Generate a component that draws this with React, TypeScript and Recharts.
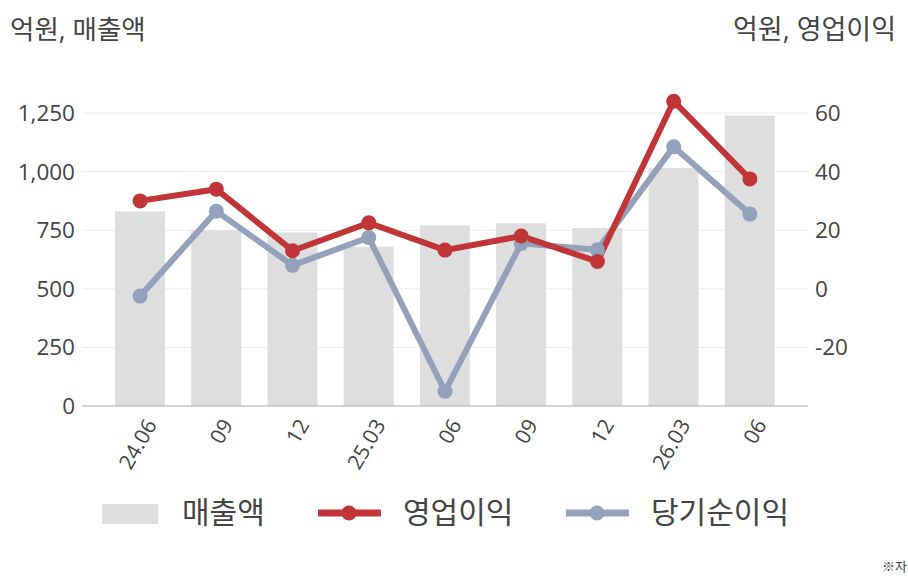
import React from 'react';
import { ComposedChart, Bar, Line, XAxis, YAxis, CartesianGrid } from 'recharts';

const categories = ['24.06', '09', '12', '25.03', '06', '09', '12', '26.03', '06'];
const revenue = [830, 750, 740, 680, 770, 780, 760, 1015, 1240];
const operatingProfit = [30, 34, 13, 22.5, 13.2, 18, 9.3, 64, 37.5];
const netIncome = [-2.5, 26.5, 8, 17.5, -35, 15.5, 13.3, 48.5, 25.5];
const leftTicks = [0, 250, 500, 750, 1000, 1250];
const rightTicks = [-20, 0, 20, 40, 60];
const leftDomain = [0, 1327];
const rightDomain = [-40, 66.14];
const seriesNames = ['매출액', '영업이익', '당기순이익'];

const BAR_COLOR = '#dedede';
const RED = '#c13538';
const BLUE = '#94a1bb';
const TEXT = '#444444';
const FONT = '"Open Sans", "Noto Sans CJK KR", sans-serif';

const data = categories.map((c, i) => ({
  label: c,
  revenue: revenue[i],
  op: operatingProfit[i],
  net: netIncome[i],
}));

const XTick = (props: any) => {
  const { x, y, payload } = props;
  const ax = x + 11;
  const ay = y + 7;
  return (
    <text
      x={ax}
      y={ay}
      transform={`rotate(-60 ${ax} ${ay})`}
      textAnchor="end"
      dy="0.35em"
      fill={TEXT}
      fontSize={21}
      fontFamily={FONT}
    >
      {payload.value}
    </text>
  );
};

const fmt = (v: number) => v.toLocaleString('en-US');

const gridGen = (props: any) => {
  const { offset } = props;
  const top = offset.top;
  const h = offset.height;
  const max = leftDomain[1];
  return leftTicks.filter((t) => t > 0).map((t) => top + h - (t / max) * h);
};

export default function App() {
  return (
    <div
      style={{
        position: 'absolute',
        left: 0,
        top: 0,
        width: 908,
        height: 580,
        overflow: 'hidden',
        background: '#fff',
        fontFamily: FONT,
      }}
    >
      <ComposedChart
        width={908}
        height={580}
        data={data}
        margin={{ top: 95, right: 0, bottom: 114, left: 0 }}
      >
        <CartesianGrid
          yAxisId="left"
          vertical={false}
          stroke="#ebebeb"
          horizontalCoordinatesGenerator={gridGen}
        />
        <XAxis
          dataKey="label"
          padding={{ left: 20, right: 20 }}
          tickLine={false}
          axisLine={{ stroke: '#aaaaaa' }}
          height={60}
          interval={0}
          tick={<XTick />}
        />
        <YAxis
          yAxisId="left"
          width={82}
          domain={leftDomain}
          ticks={leftTicks}
          tickFormatter={fmt}
          axisLine={false}
          tickLine={false}
          tickMargin={1}
          tick={{ fill: TEXT, fontSize: 22.5, fontFamily: FONT }}
        />
        <YAxis
          yAxisId="right"
          orientation="right"
          width={100}
          domain={rightDomain}
          ticks={rightTicks}
          axisLine={false}
          tickLine={false}
          tickMargin={1}
          tick={{ fill: TEXT, fontSize: 22.5, fontFamily: FONT, textAnchor: 'start' }}
        />
        <Bar yAxisId="left" dataKey="revenue" name={seriesNames[0]} fill={BAR_COLOR} barSize={50} isAnimationActive={false} />
        <Line
          yAxisId="right"
          dataKey="net"
          name={seriesNames[2]}
          stroke={BLUE}
          strokeWidth={6}
          dot={{ r: 7.5, fill: BLUE, stroke: BLUE, strokeWidth: 0 }}
          activeDot={false}
          isAnimationActive={false}
        />
        <Line
          yAxisId="right"
          dataKey="op"
          name={seriesNames[1]}
          stroke={RED}
          strokeWidth={6}
          dot={{ r: 7.5, fill: RED, stroke: RED, strokeWidth: 0 }}
          activeDot={false}
          isAnimationActive={false}
        />
      </ComposedChart>

      <div style={{ position: 'absolute', left: 10, top: 8, fontSize: 26.5, color: TEXT, whiteSpace: 'nowrap' }}>
        억원, 매출액
      </div>
      <div style={{ position: 'absolute', right: 12, top: 8, fontSize: 27, color: TEXT, whiteSpace: 'nowrap' }}>
        억원, 영업이익
      </div>

      {/* legend */}
      <div style={{ position: 'absolute', left: 102, top: 504, width: 56, height: 20, background: BAR_COLOR }} />
      <div style={{ position: 'absolute', left: 182, top: 494, fontSize: 30, lineHeight: '36px', color: TEXT, whiteSpace: 'nowrap' }}>
        {seriesNames[0]}
      </div>
      <svg style={{ position: 'absolute', left: 318, top: 503 }} width={64} height={20}>
        <line x1={0} y1={10} x2={63} y2={10} stroke={RED} strokeWidth={7} />
        <circle cx={31} cy={10} r={7.5} fill={RED} />
      </svg>
      <div style={{ position: 'absolute', left: 403, top: 494, fontSize: 30, lineHeight: '36px', color: TEXT, whiteSpace: 'nowrap' }}>
        {seriesNames[1]}
      </div>
      <svg style={{ position: 'absolute', left: 566, top: 503 }} width={64} height={20}>
        <line x1={0} y1={10} x2={63} y2={10} stroke={BLUE} strokeWidth={7} />
        <circle cx={31} cy={10} r={7.5} fill={BLUE} />
      </svg>
      <div style={{ position: 'absolute', left: 651, top: 494, fontSize: 30, lineHeight: '36px', color: TEXT, whiteSpace: 'nowrap' }}>
        {seriesNames[2]}
      </div>

      <div style={{ position: 'absolute', left: 882, top: 556, fontSize: 13, color: TEXT, whiteSpace: 'nowrap' }}>
        ※자
      </div>
    </div>
  );
}
